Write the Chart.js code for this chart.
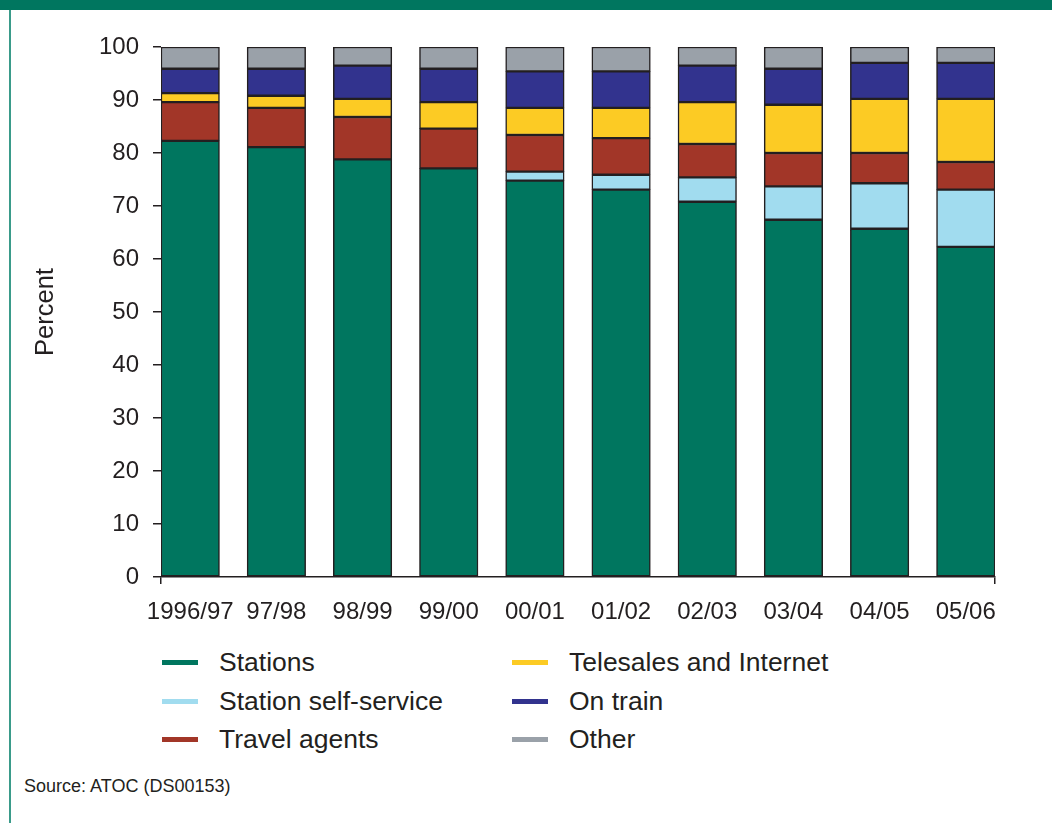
<!DOCTYPE html>
<html>
<head>
<meta charset="utf-8">
<script src="https://cdn.jsdelivr.net/npm/chart.js@4.4.1/dist/chart.umd.min.js"></script>
<style>
  body { margin: 0; background: #fff; font-family: "Liberation Sans", Arial, sans-serif; color: #231f20; }
  #page { position: relative; width: 1052px; height: 823px; overflow: hidden; }
  #topband { position: absolute; left: 0; top: 0; width: 1052px; height: 10px; background: #00765f; }
  #leftline { position: absolute; left: 9px; top: 10px; width: 2px; height: 813px; background: #3a9b8a; }
  #wrap { position: absolute; left: 0; top: 0; width: 1052px; height: 630px; }
  .legend { position: absolute; font-size: 26.5px; }
  .legend .item { position: absolute; white-space: nowrap; height: 38px; line-height: 38px; }
  .legend .mark { position: absolute; width: 36px; height: 5px; top: 17px; }
  .legend .txt { position: absolute; }
  #source { position: absolute; left: 24px; top: 776px; font-size: 18px; }
</style>
</head>
<body>
<div id="page">
  <div id="topband"></div>
  <div id="leftline"></div>
  <div id="wrap"><canvas id="sales-plot"></canvas></div>
  <div id="legend" class="legend"></div>
  <div id="source">Source: ATOC (DS00153)</div>
</div>
<script>
// Ticket sales by channel, percent
const years = ['1996/97', '97/98', '98/99', '99/00', '00/01', '01/02', '02/03', '03/04', '04/05', '05/06'];
const stations    = [82.3, 81.1, 78.8, 77.1, 74.8, 73.1, 70.8, 67.4, 65.7, 62.3];
const selfService = [0, 0, 0, 0, 1.7, 2.8, 4.6, 6.3, 8.6, 10.8];
const travelAgents = [7.3, 7.4, 8.0, 7.5, 6.9, 6.9, 6.3, 6.3, 5.7, 5.2];
const telesales   = [1.7, 2.3, 3.4, 5.0, 5.1, 5.7, 7.9, 9.1, 10.2, 11.9];
const onTrain     = [4.6, 5.1, 6.3, 6.3, 6.9, 6.9, 6.9, 6.8, 6.8, 6.8];
const other       = [4.1, 4.1, 3.5, 4.1, 4.6, 4.6, 3.5, 4.1, 3.0, 3.0];
const yTicks = [0, 10, 20, 30, 40, 50, 60, 70, 80, 90, 100];

const series = [
  { label: 'Stations', data: stations, color: '#00765f' },
  { label: 'Station self-service', data: selfService, color: '#a1dcef' },
  { label: 'Travel agents', data: travelAgents, color: '#a23628' },
  { label: 'Telesales and Internet', data: telesales, color: '#fccb24' },
  { label: 'On train', data: onTrain, color: '#32338e' },
  { label: 'Other', data: other, color: '#9aa1a9' }
];

// bars sit flush against both ends of the axis
const half = 0.339;
const ink = '#231f20';

new Chart('sales-plot', {
  type: 'bar',
  data: {
    datasets: series.map(s => ({
      label: s.label,
      data: s.data.map((v, i) => ({ x: i, y: v })),
      backgroundColor: s.color,
      borderColor: ink,
      borderWidth: 1.5,
      borderSkipped: false,
      barThickness: 58.5
    }))
  },
  options: {
    responsive: true,
    maintainAspectRatio: false,
    animation: false,
    layout: { padding: { left: 31, right: 57, top: 47, bottom: 0 } },
    plugins: {
      legend: { display: false },
      tooltip: { enabled: false }
    },
    scales: {
      x: {
        type: 'linear',
        stacked: true,
        offset: false,
        min: -half,
        max: years.length - 1 + half,
        afterBuildTicks: s => {
          s.ticks = [-half].concat(years.map((y, i) => i), [years.length - 1 + half]).map(v => ({ value: v }));
        },
        afterFit: s => { s.height = 53; },
        ticks: {
          autoSkip: false,
          maxRotation: 0,
          padding: 14,
          color: ink,
          font: { family: 'Liberation Sans', size: 24 },
          callback: v => Number.isInteger(v) ? years[v] : ''
        },
        grid: {
          display: true,
          offset: false,
          drawOnChartArea: false,
          tickLength: 7,
          lineWidth: 1.5,
          tickColor: c => (c.tick && !Number.isInteger(c.tick.value)) ? ink : 'transparent'
        },
        border: { display: true, color: ink, width: 1.5 }
      },
      y: {
        stacked: true,
        min: 0,
        max: 100,
        afterBuildTicks: s => { s.ticks = yTicks.map(v => ({ value: v })); },
        afterFit: s => { s.width = 130; },
        ticks: {
          padding: 14,
          color: ink,
          font: { family: 'Liberation Sans', size: 24 }
        },
        grid: {
          display: true,
          drawOnChartArea: false,
          tickLength: 8,
          lineWidth: 1.5,
          tickColor: ink
        },
        border: { display: false },
        title: {
          display: true,
          text: 'Percent',
          color: ink,
          padding: 0,
          font: { family: 'Liberation Sans', size: 25.5 }
        }
      }
    }
  }
});

// legend in two columns, like the print version
const legend = document.getElementById('legend');
series.forEach((s, i) => {
  const col = Math.floor(i / 3), row = i % 3;
  const item = document.createElement('div');
  item.className = 'item';
  item.style.left = (162 + col * 350) + 'px';
  item.style.top = (643 + row * 38.5) + 'px';
  item.innerHTML = '<span class="mark" style="left:0;background:' + s.color + '"></span>' +
    '<span class="txt" style="left:57px">' + s.label + '</span>';
  legend.appendChild(item);
});
</script>
</body>
</html>
